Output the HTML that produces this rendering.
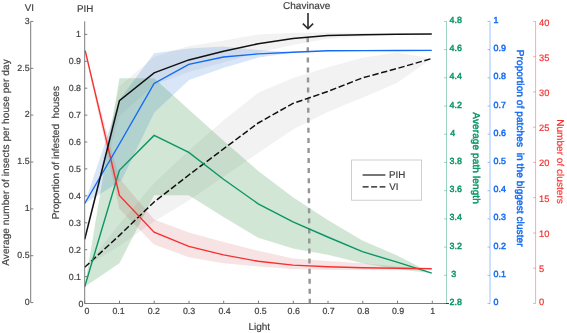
<!DOCTYPE html>
<html><head><meta charset="utf-8"><title>Figure</title>
<style>
html,body{margin:0;padding:0;background:#fff;}
body{width:567px;height:333px;overflow:hidden;}
svg{display:block;font-family:"Liberation Sans",Arial,Helvetica,sans-serif;text-rendering:geometricPrecision;}
</style></head><body>
<svg width="567" height="333" viewBox="0 0 567 333">
<rect width="567" height="333" fill="#fff"/>

<polygon points="84.7,239.2 119.4,86.2 154.1,56.8 188.8,46.0 223.5,40.5 258.2,34.4 293.0,32.7 327.7,32.5 362.4,33.0 397.1,33.5 431.8,33.9 431.8,33.9 397.1,34.8 362.4,36.5 327.7,38.8 293.0,45.0 258.2,52.8 223.5,62.5 188.8,72.0 154.1,85.0 119.4,116.0 84.7,239.2" fill="#000" fill-opacity="0.052"/>
<polygon points="84.7,267.3 119.4,224.0 154.1,183.0 188.8,150.5 223.5,120.2 258.2,92.8 293.0,78.0 327.7,67.3 362.4,57.8 397.1,52.5 431.8,58.5 431.8,58.5 397.1,83.0 362.4,97.8 327.7,111.9 293.0,129.6 258.2,153.0 223.5,176.8 188.8,200.5 154.1,221.5 119.4,246.0 84.7,267.3" fill="#000" fill-opacity="0.052"/>
<polygon points="84.7,203.5 119.4,100.0 154.1,53.2 188.8,48.6 223.5,46.5 258.2,50.0 293.0,52.2 293.5,52.4 258.7,57.5 223.9,67.8 189.1,80.0 154.3,112.5 121.6,180.2 114.2,184.9 99.8,194.3 84.7,203.5" fill="#2f78d8" fill-opacity="0.19"/>
<polygon points="84.7,50.7 119.4,178.6 154.1,219.5 188.8,232.6 223.5,242.0 258.2,250.8 293.0,258.4 327.7,261.0 362.4,263.3 397.1,266.5 431.8,268.8 431.8,268.8 397.1,269.5 362.4,270.0 327.7,270.0 293.0,269.0 258.2,266.5 223.5,263.3 188.8,257.2 154.1,244.4 119.4,209.0 84.7,50.7" fill="#c83838" fill-opacity="0.14"/>
<polygon points="84.7,286.8 119.4,78.3 154.1,78.3 188.8,109.5 223.5,140.8 258.2,171.0 293.0,197.3 327.7,220.0 362.4,240.5 397.1,255.5 431.8,273.2 431.8,273.2 397.1,269.0 362.4,263.3 327.7,254.7 293.0,248.5 258.2,237.7 223.5,216.9 188.8,195.3 154.1,195.3 119.4,263.3 84.7,286.8" fill="#2e8b40" fill-opacity="0.22"/>
<line x1="307.7" y1="37.3" x2="309.8" y2="303.5" stroke="#949494" stroke-width="2.4" stroke-dasharray="5 5.06"/>
<polyline points="84.7,267.3 119.4,235.4 154.1,202.0 188.8,175.0 223.5,148.9 258.2,123.0 293.0,103.4 327.7,91.5 362.4,77.9 397.1,68.5 431.8,58.5" fill="none" stroke="#111" stroke-width="1.5" stroke-dasharray="6.381 2.6"/>
<polyline points="84.7,286.8 119.4,170.3 154.1,135.4 188.8,152.4 223.5,179.2 258.2,203.8 293.0,221.8 327.7,237.0 362.4,251.7 397.1,262.1 431.8,273.2" fill="none" stroke="#0a9664" stroke-width="1.4"/>
<polyline points="85.2,50.7 119.4,195.4 154.1,232.2 188.8,246.4 223.5,254.9 258.2,261.3 293.0,265.1 327.7,266.8 362.4,267.8 397.1,268.3 431.8,268.8" fill="none" stroke="#f53030" stroke-width="1.4"/>
<polyline points="84.7,203.5 119.4,144.0 154.1,83.5 188.8,64.4 223.5,57.0 258.2,53.9 293.0,52.2 327.7,50.8 362.4,50.6 397.1,50.5 431.8,50.4" fill="none" stroke="#126af5" stroke-width="1.4"/>
<polyline points="84.7,239.2 119.4,100.7 154.1,72.9 188.8,59.9 223.5,51.3 258.2,43.7 293.0,38.6 327.7,35.6 362.4,34.7 397.1,34.2 431.8,33.9" fill="none" stroke="#111" stroke-width="1.5"/>
<g stroke="#7c7c7c" stroke-width="1" fill="none">
<line x1="30.7" y1="21.4" x2="30.7" y2="302.6"/>
<line x1="30.7" y1="302.6" x2="33.3" y2="302.6"/>
<line x1="30.7" y1="255.7" x2="33.3" y2="255.7"/>
<line x1="30.7" y1="208.9" x2="33.3" y2="208.9"/>
<line x1="30.7" y1="162.0" x2="33.3" y2="162.0"/>
<line x1="30.7" y1="115.1" x2="33.3" y2="115.1"/>
<line x1="30.7" y1="68.3" x2="33.3" y2="68.3"/>
<line x1="30.7" y1="21.4" x2="33.3" y2="21.4"/>
<line x1="84.7" y1="21.4" x2="84.7" y2="303.5"/>
<line x1="84.7" y1="303.5" x2="87.3" y2="303.5"/>
<line x1="84.7" y1="276.6" x2="87.3" y2="276.6"/>
<line x1="84.7" y1="249.7" x2="87.3" y2="249.7"/>
<line x1="84.7" y1="222.8" x2="87.3" y2="222.8"/>
<line x1="84.7" y1="195.9" x2="87.3" y2="195.9"/>
<line x1="84.7" y1="168.9" x2="87.3" y2="168.9"/>
<line x1="84.7" y1="142.0" x2="87.3" y2="142.0"/>
<line x1="84.7" y1="115.1" x2="87.3" y2="115.1"/>
<line x1="84.7" y1="88.2" x2="87.3" y2="88.2"/>
<line x1="84.7" y1="61.3" x2="87.3" y2="61.3"/>
<line x1="84.7" y1="34.4" x2="87.3" y2="34.4"/>
<line x1="84.7" y1="303.5" x2="448.8" y2="303.5"/>
<line x1="446" y1="303.5" x2="448.8" y2="303.5" stroke="#333"/>
<line x1="84.7" y1="303.5" x2="84.7" y2="300.7"/>
<line x1="119.5" y1="303.5" x2="119.5" y2="300.7"/>
<line x1="154.2" y1="303.5" x2="154.2" y2="300.7"/>
<line x1="189.0" y1="303.5" x2="189.0" y2="300.7"/>
<line x1="223.7" y1="303.5" x2="223.7" y2="300.7"/>
<line x1="258.5" y1="303.5" x2="258.5" y2="300.7"/>
<line x1="293.3" y1="303.5" x2="293.3" y2="300.7"/>
<line x1="328.0" y1="303.5" x2="328.0" y2="300.7"/>
<line x1="362.8" y1="303.5" x2="362.8" y2="300.7"/>
<line x1="397.5" y1="303.5" x2="397.5" y2="300.7"/>
<line x1="432.3" y1="303.5" x2="432.3" y2="300.7"/>
</g>
<g stroke="#0a9664" stroke-width="0.8" fill="none" stroke-opacity="0.5">
<line x1="446.5" y1="21.4" x2="446.5" y2="303.5"/>
<line x1="444.0" y1="303.5" x2="446.5" y2="303.5"/>
<line x1="444.0" y1="275.3" x2="446.5" y2="275.3"/>
<line x1="444.0" y1="247.1" x2="446.5" y2="247.1"/>
<line x1="444.0" y1="218.9" x2="446.5" y2="218.9"/>
<line x1="444.0" y1="190.7" x2="446.5" y2="190.7"/>
<line x1="444.0" y1="162.4" x2="446.5" y2="162.4"/>
<line x1="444.0" y1="134.2" x2="446.5" y2="134.2"/>
<line x1="444.0" y1="106.0" x2="446.5" y2="106.0"/>
<line x1="444.0" y1="77.8" x2="446.5" y2="77.8"/>
<line x1="444.0" y1="49.6" x2="446.5" y2="49.6"/>
<line x1="444.0" y1="21.4" x2="446.5" y2="21.4"/>
</g>
<g fill="#0a9664" font-size="8.9" stroke="#0a9664" stroke-width="0.45">
<text x="449.6" y="304.5">2.8</text>
<text x="451.20000000000005" y="276.8">3</text>
<text x="449.6" y="248.6">3.2</text>
<text x="449.6" y="220.4">3.4</text>
<text x="449.6" y="192.2">3.6</text>
<text x="449.6" y="163.9">3.8</text>
<text x="450.20000000000005" y="135.7">4</text>
<text x="449.6" y="107.5">4.2</text>
<text x="449.6" y="79.3">4.4</text>
<text x="449.6" y="51.1">4.6</text>
<text x="449.6" y="22.9">4.8</text>
</g>
<g stroke="#126af5" stroke-width="0.8" fill="none" stroke-opacity="0.5">
<line x1="490.0" y1="21.4" x2="490.0" y2="303.5"/>
<line x1="487.5" y1="303.5" x2="490.0" y2="303.5"/>
<line x1="487.5" y1="275.3" x2="490.0" y2="275.3"/>
<line x1="487.5" y1="247.1" x2="490.0" y2="247.1"/>
<line x1="487.5" y1="218.9" x2="490.0" y2="218.9"/>
<line x1="487.5" y1="190.7" x2="490.0" y2="190.7"/>
<line x1="487.5" y1="162.4" x2="490.0" y2="162.4"/>
<line x1="487.5" y1="134.2" x2="490.0" y2="134.2"/>
<line x1="487.5" y1="106.0" x2="490.0" y2="106.0"/>
<line x1="487.5" y1="77.8" x2="490.0" y2="77.8"/>
<line x1="487.5" y1="49.6" x2="490.0" y2="49.6"/>
<line x1="487.5" y1="21.4" x2="490.0" y2="21.4"/>
</g>
<g fill="#126af5" font-size="8.9" stroke="#126af5" stroke-width="0.45">
<text x="493.6" y="304.5">0</text>
<text x="493.6" y="276.8">0.1</text>
<text x="493.6" y="248.6">0.2</text>
<text x="493.6" y="220.4">0.3</text>
<text x="493.6" y="192.2">0.4</text>
<text x="493.6" y="163.9">0.5</text>
<text x="493.6" y="135.7">0.6</text>
<text x="493.6" y="107.5">0.7</text>
<text x="493.6" y="79.3">0.8</text>
<text x="493.6" y="51.1">0.9</text>
<text x="493.6" y="22.9">1</text>
</g>
<g stroke="#f53030" stroke-width="0.8" fill="none" stroke-opacity="0.5">
<line x1="535.6" y1="21.4" x2="535.6" y2="303.5"/>
<line x1="533.1" y1="303.5" x2="535.6" y2="303.5"/>
<line x1="533.1" y1="268.2" x2="535.6" y2="268.2"/>
<line x1="533.1" y1="233.0" x2="535.6" y2="233.0"/>
<line x1="533.1" y1="197.7" x2="535.6" y2="197.7"/>
<line x1="533.1" y1="162.4" x2="535.6" y2="162.4"/>
<line x1="533.1" y1="127.2" x2="535.6" y2="127.2"/>
<line x1="533.1" y1="91.9" x2="535.6" y2="91.9"/>
<line x1="533.1" y1="56.7" x2="535.6" y2="56.7"/>
<line x1="533.1" y1="21.4" x2="535.6" y2="21.4"/>
</g>
<g fill="#f53030" font-size="9.3" stroke="#f53030" stroke-width="0.2">
<text x="539.0" y="304.5">0</text>
<text x="539.0" y="272.2">5</text>
<text x="539.0" y="237.0">10</text>
<text x="539.0" y="201.7">15</text>
<text x="539.0" y="166.4">20</text>
<text x="539.0" y="131.2">25</text>
<text x="539.0" y="95.9">30</text>
<text x="539.0" y="60.7">35</text>
<text x="539.0" y="26.0">40</text>
</g>
<g fill="#404040" font-size="8.8" text-anchor="end" stroke="#404040" stroke-width="0.2">
<text x="29.6" y="304.9">0</text>
<text x="29.6" y="258.0">0.5</text>
<text x="29.6" y="211.2">1</text>
<text x="29.6" y="164.3">1.5</text>
<text x="29.6" y="117.4">2</text>
<text x="29.6" y="70.6">2.5</text>
<text x="29.6" y="23.7">3</text>
<text x="83.4" y="306.8">0</text>
<text x="81.0" y="279.6">0.1</text>
<text x="81.0" y="252.7">0.2</text>
<text x="81.0" y="225.8">0.3</text>
<text x="81.0" y="198.9">0.4</text>
<text x="81.0" y="171.9">0.5</text>
<text x="81.0" y="145.0">0.6</text>
<text x="81.0" y="118.1">0.7</text>
<text x="81.0" y="91.2">0.8</text>
<text x="81.0" y="64.3">0.9</text>
<text x="81.0" y="37.4">1</text>
</g>
<g fill="#404040" font-size="8.8" text-anchor="middle" stroke="#404040" stroke-width="0.2">
<text x="87.0" y="314.3">0</text>
<text x="118.5" y="314.3">0.1</text>
<text x="153.8" y="314.3">0.2</text>
<text x="189.0" y="314.3">0.3</text>
<text x="224.6" y="314.3">0.4</text>
<text x="260.5" y="314.3">0.5</text>
<text x="293.7" y="314.3">0.6</text>
<text x="328.6" y="314.3">0.7</text>
<text x="363.3" y="314.3">0.8</text>
<text x="398.0" y="314.3">0.9</text>
<text x="432.7" y="314.3">1</text>
</g>
<g fill="#404040" stroke="#404040" stroke-width="0.18">
<text x="24.8" y="11.1" font-size="9.8">VI</text>
<text x="76.9" y="11.7" font-size="9.8">PIH</text>
<text x="283" y="9" font-size="10" textLength="47.4">Chavinave</text>
<text x="248.4" y="330" font-size="10">Light</text>
<text transform="translate(9.2,265.8) rotate(-90)" font-size="10" textLength="206.5">Average number of insects per house per day</text>
<text transform="translate(59.3,219.3) rotate(-90)" font-size="10" textLength="133.2" xml:space="preserve">Proportion of infested  houses</text>
</g>
<text transform="translate(473.4,112.3) rotate(90)" font-size="10" textLength="91.5" fill="#0a9664" stroke="#0a9664" stroke-width="0.45">Average path length</text>
<text transform="translate(516.6,49.8) rotate(90)" font-size="10" textLength="196.8" fill="#126af5" stroke="#126af5" stroke-width="0.45" xml:space="preserve">Proportion of patches  in the biggest cluster</text>
<text transform="translate(557,119.2) rotate(90)" font-size="10" textLength="84.6" fill="#f53030" stroke="#f53030" stroke-width="0.15">Number of clusters</text>
<g stroke="#2a2a2a" stroke-width="1.6" fill="none"><line x1="308" y1="13" x2="308" y2="28"/><polyline points="302.9,23.6 308,28.7 313.1,23.6"/></g>
<rect x="351.6" y="160" width="70" height="40.2" fill="#fff" stroke="#c4c4c4" stroke-width="0.8"/>
<line x1="362.6" y1="175" x2="385.4" y2="175" stroke="#111" stroke-width="1.15"/>
<line x1="362.6" y1="186.9" x2="385.4" y2="186.9" stroke="#111" stroke-width="1.15" stroke-dasharray="6 2.5"/>
<text x="389.0" y="178" font-size="9.8" fill="#404040" stroke="#404040" stroke-width="0.18">PIH</text>
<text x="389.2" y="190.1" font-size="9.8" fill="#404040" stroke="#404040" stroke-width="0.18">VI</text>
</svg></body></html>
